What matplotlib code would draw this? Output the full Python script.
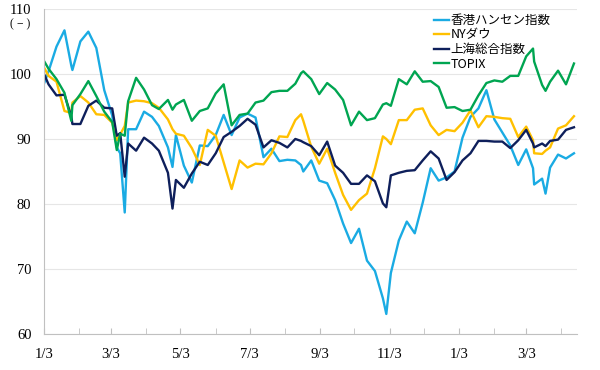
import matplotlib
matplotlib.use("Agg")
import matplotlib.pyplot as plt
import matplotlib.dates as mdates
from matplotlib.ticker import FuncFormatter
import pandas as pd

dates = ["2022-01-03", "2022-01-07", "2022-01-14", "2022-01-21", "2022-01-27", "2022-01-28",
         "2022-02-04", "2022-02-11", "2022-02-18", "2022-02-25", "2022-03-04", "2022-03-08",
         "2022-03-11", "2022-03-15", "2022-03-18", "2022-03-25", "2022-04-01", "2022-04-08",
         "2022-04-14", "2022-04-22", "2022-04-26", "2022-04-29", "2022-05-06", "2022-05-13",
         "2022-05-20", "2022-05-27", "2022-06-03", "2022-06-10", "2022-06-17", "2022-06-24",
         "2022-07-01", "2022-07-08", "2022-07-15", "2022-07-22", "2022-07-29", "2022-08-05",
         "2022-08-12", "2022-08-17", "2022-08-19", "2022-08-26", "2022-09-02", "2022-09-09",
         "2022-09-16", "2022-09-23", "2022-09-30", "2022-10-07", "2022-10-14", "2022-10-21",
         "2022-10-28", "2022-10-31", "2022-11-04", "2022-11-11", "2022-11-18", "2022-11-25",
         "2022-12-02", "2022-12-09", "2022-12-16", "2022-12-23", "2022-12-30", "2023-01-06",
         "2023-01-13", "2023-01-20", "2023-01-27", "2023-02-03", "2023-02-10", "2023-02-17",
         "2023-02-24", "2023-03-03", "2023-03-09", "2023-03-10", "2023-03-17", "2023-03-20",
         "2023-03-24", "2023-03-31", "2023-04-07", "2023-04-14"]

hangseng = [98.5, 100.4, 104.2, 106.7, 101.3, 100.6, 105.0, 106.5, 104.0, 97.5, 93.6, 88.7,
            87.8, 78.7, 91.5, 91.5, 94.2, 93.4, 92.0, 88.7, 85.7, 90.6, 85.9, 83.3,
            89.0, 88.9, 90.6, 93.7, 90.6, 93.3, 93.9, 93.3, 87.2, 88.5, 86.6, 86.8,
            86.7, 86.0, 85.0, 86.7, 83.6, 83.2, 80.6, 77.0, 74.0, 76.2, 71.3, 69.7,
            65.5, 63.1, 69.4, 74.4, 77.3, 75.5, 80.2, 85.5, 83.6, 84.1, 85.0, 90.2,
            93.4, 94.7, 97.5, 93.0, 91.0, 89.0, 86.0, 88.4, 85.5, 83.0, 83.9, 81.6,
            85.6, 87.6, 87.0, 87.8]

nydow = [101.0, 99.7, 98.8, 94.3, 94.0, 95.6, 96.6, 95.6, 93.8, 93.7, 92.5, 89.8,
         90.7, 92.0, 95.6, 95.9, 95.8, 95.5, 94.8, 93.0, 91.5, 90.8, 90.5, 88.6,
         86.0, 91.4, 90.5, 86.4, 82.3, 86.7, 85.6, 86.2, 86.1, 87.8, 90.4, 90.3,
         92.9, 93.8, 92.8, 88.8, 86.2, 88.5, 84.8, 81.4, 79.1, 80.6, 81.6, 85.5,
         90.4, 90.0, 89.2, 92.9, 92.9, 94.5, 94.7, 92.1, 90.6, 91.4, 91.2, 92.5,
         94.4, 91.8, 93.5, 93.4, 93.2, 93.1, 90.3, 91.9, 89.8, 87.8, 87.7, 88.2,
         88.7, 91.6, 92.1, 93.5]

shanghai = [100.0, 98.4, 96.7, 96.8, 93.5, 92.3, 92.3, 95.1, 95.9, 94.8, 94.7, 90.5,
            90.9, 84.2, 89.3, 88.2, 90.2, 89.3, 88.2, 84.8, 79.3, 83.7, 82.5, 84.7,
            86.5, 86.0, 87.8, 90.3, 91.1, 92.0, 93.1, 92.2, 88.7, 89.8, 89.4, 88.7,
            90.0, 89.7, 89.5, 88.9, 87.5, 89.6, 85.9, 84.8, 83.1, 83.1, 84.4, 83.5,
            80.1, 79.5, 84.4, 84.8, 85.1, 85.2, 86.7, 88.1, 87.0, 83.7, 84.9, 86.7,
            87.8, 89.7, 89.7, 89.6, 89.6, 88.6, 89.8, 91.4, 89.3, 88.7, 89.3, 88.9,
            89.7, 89.9, 91.4, 91.8]

topix = [102.0, 100.8, 99.2, 97.1, 92.8, 95.2, 96.9, 98.9, 96.6, 94.2, 92.6, 88.3,
         90.8, 90.5, 95.8, 99.4, 97.6, 95.2, 94.6, 96.0, 94.5, 95.3, 96.0, 92.8,
         94.3, 94.7, 97.0, 98.4, 92.1, 93.7, 93.9, 95.6, 95.9, 97.2, 97.4, 97.4,
         98.5, 100.1, 100.4, 99.2, 96.9, 98.6, 97.6, 96.0, 92.1, 94.2, 92.9, 93.2,
         95.3, 95.5, 95.1, 99.2, 98.4, 100.4, 98.8, 98.9, 98.0, 94.8, 94.9, 94.3,
         94.5, 96.7, 98.6, 99.0, 98.8, 99.7, 99.7, 102.7, 103.9, 101.9, 98.3, 97.4,
         98.8, 100.5, 98.4, 101.6]

labels = ["香港ハンセン指数", "NYダウ", "上海総合指数", "TOPIX"]
colors = ["#1AABE3", "#FFC000", "#0E1F5B", "#00A551"]

x = pd.to_datetime(dates)

fig = plt.figure(figsize=(6, 3.7), dpi=100)
ax = fig.add_axes([0.0733, 0.097, 0.889, 0.879])

for series, lab, col in zip([hangseng, nydow, shanghai, topix], labels, colors):
    ax.plot(x, series, color=col, lw=1.7, label=lab)

ax.set_ylim(60, 110)
ax.set_yticks([60, 70, 80, 90, 100, 110])
ax.set_xlim(pd.Timestamp("2022-01-03"), pd.Timestamp("2023-04-17"))
ax.xaxis.set_major_locator(mdates.MonthLocator(bymonth=[1, 3, 5, 7, 9, 11], bymonthday=3))
ax.xaxis.set_minor_locator(mdates.MonthLocator(bymonthday=3))
ax.xaxis.set_major_formatter(FuncFormatter(lambda v, p: "%d/%d" % (mdates.num2date(v).month, mdates.num2date(v).day)))

ax.grid(axis="y", color="#e6e6e6", lw=0.8)
ax.set_axisbelow(True)
for s in ["top", "right"]:
    ax.spines[s].set_visible(False)
for s in ["left", "bottom"]:
    ax.spines[s].set_color("#c0c0c0")
ax.tick_params(axis="y", length=0, pad=9, labelsize=10.5)
ax.tick_params(axis="x", which="both", direction="in", length=4, color="#c0c0c0", pad=10, labelsize=10.5)
for t in ax.get_xticklabels() + ax.get_yticklabels():
    t.set_fontfamily("Liberation Serif")

fig.text(0.016, 0.935, "( − )", fontsize=8.5, family="Liberation Serif", ha="left", va="center")

leg = ax.legend(loc="upper left", bbox_to_anchor=(0.722, 1.0), frameon=False,
                prop={"family": ["Noto Sans CJK JP", "DejaVu Sans"], "size": 9},
                handlelength=1.2, handletextpad=0.1, labelspacing=0.13, borderaxespad=0)

fig.savefig("out.png", dpi=100)
